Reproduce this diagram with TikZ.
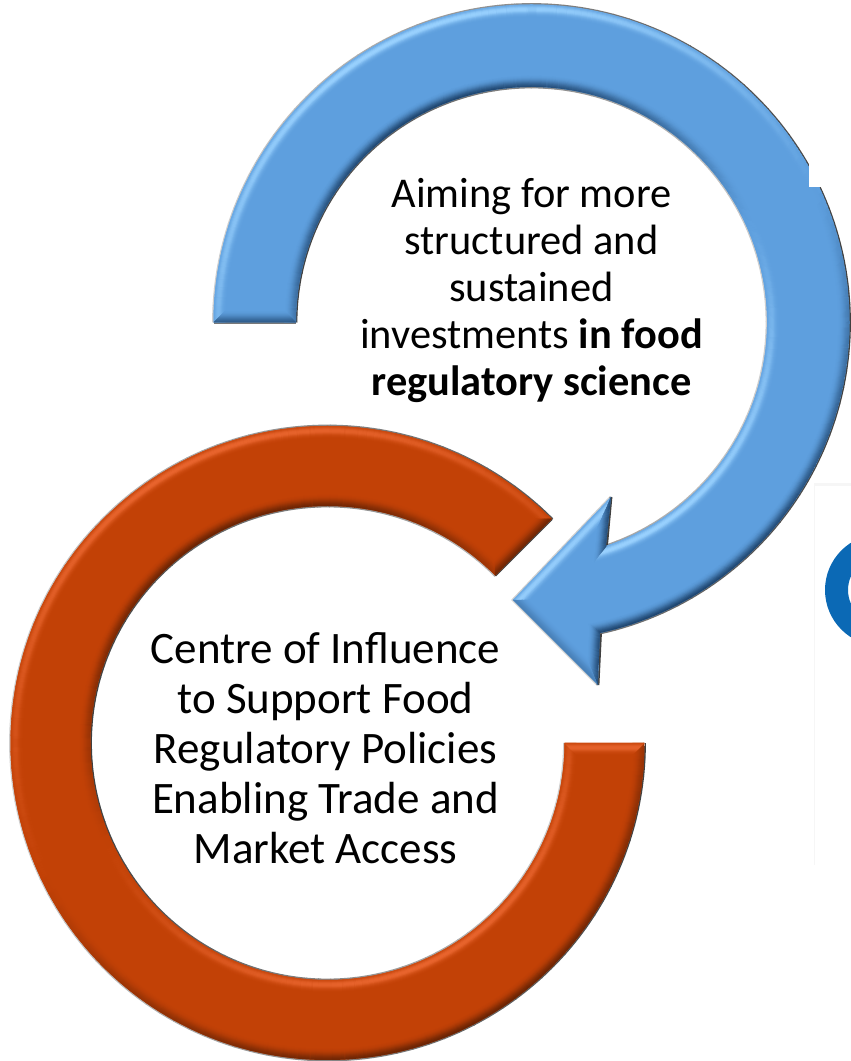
\documentclass[tikz,border=0pt]{standalone}
\usepackage{fontspec}
\setmainfont{Carlito}
\definecolor{BB}{HTML}{5E9FDE}
\definecolor{BH}{HTML}{9AD2FF}
\definecolor{BD}{HTML}{1F4670}
\definecolor{RB}{HTML}{C24106}
\definecolor{RH}{HTML}{E9652E}
\definecolor{RD}{HTML}{6A2404}
\definecolor{HL}{HTML}{CFCFCF}
\definecolor{HD}{HTML}{404040}
\definecolor{LogoBlue}{HTML}{0B69B5}
\definecolor{Faint}{HTML}{F6F6F6}
\newcommand\bevcol[2]{%
  \ifdim#1pt>0pt
    \pgfmathsetmacro\mval{100*#1*\kl}\colorlet{cur}{#2H!\mval!#2B}%
  \else
    \pgfmathsetmacro\mval{-100*#1*\ks}\colorlet{cur}{#2D!\mval!#2B}%
  \fi}
\newcommand\setk{%
  \pgfmathsetmacro\kl{{0.3,0.55,0.8,0.95,1,0.95,0.8,0.55,0.35,0.2,0.1,0.04}[\tl]}%
  \pgfmathsetmacro\ks{{1,0.9,0.8,0.68,0.55,0.42,0.3,0.2,0.12,0.06,0.03,0}[\tl]}}
% cx cy R sign astart aend prefix extra
\newcommand\ringedge[8]{%
  \foreach \tl in {11,10,...,0}{%
    \setk
    \pgfmathsetmacro\rr{#3-#4*(\tl+0.5)}%
    \pgfmathsetmacro\aend{#6-#8*\tl}%
    \pgfmathtruncatemacro\nn{abs(\aend-#5)/3+1}%
    \pgfmathsetmacro\stp{(\aend-#5)/\nn}%
    \foreach \ii in {1,...,\nn}{%
      \pgfmathsetmacro\aa{#5+(\ii-1)*\stp}%
      \pgfmathsetmacro\bb{\aa+\stp*1.08}%
      \pgfmathsetmacro\dd{#4*cos(\aa+\stp/2-115)}%
      \bevcol{\dd}{#7}%
      \draw[line width=1.4pt,color=cur,shift={(#1,#2)}] (\aa:\rr pt) arc[start angle=\aa,end angle=\bb,radius=\rr pt];
    }%
  }}
% cx cy R sign astart aend
\newcommand\ringhalo[6]{%
  \pgfmathtruncatemacro\nn{abs(#6-#5)/3+1}%
  \pgfmathsetmacro\stp{(#6-#5)/\nn}%
  \foreach \ii in {1,...,\nn}{%
    \pgfmathsetmacro\aa{#5+(\ii-1)*\stp}%
    \pgfmathsetmacro\bb{\aa+\stp*1.05}%
    \pgfmathsetmacro\xx{50-50*#4*cos(\aa+\stp/2)}%
    \colorlet{cur}{HL!\xx!HD}%
    \draw[line width=2.8pt,color=cur,shift={(#1,#2)}] (\aa:#3 pt) arc[start angle=\aa,end angle=\bb,radius=#3 pt];
  }}
% cx cy a0 s ro ri d prefix
\newcommand\ringcap[8]{%
  \foreach \tl in {11,10,...,0}{%
    \setk
    \bevcol{#7}{#8}%
    \pgfmathsetmacro\pa{#3+#4*\tl*57.3/(#5-\tl)}%
    \pgfmathsetmacro\pb{#3+#4*(\tl+1)*57.3/(#5-\tl-1)}%
    \pgfmathsetmacro\pc{#3+#4*(\tl+1)*57.3/(#6+\tl+1)}%
    \pgfmathsetmacro\pd{#3+#4*\tl*57.3/(#6+\tl)}%
    \pgfmathsetmacro\qa{#5-\tl}\pgfmathsetmacro\qb{#5-\tl-1}%
    \pgfmathsetmacro\qc{#6+\tl+1}\pgfmathsetmacro\qd{#6+\tl}%
    \fill[color=cur,draw=cur,line width=0.3pt,shift={(#1,#2)}] (\pa:\qa pt) -- (\pb:\qb pt) -- (\pc:\qc pt) -- (\pd:\qd pt) -- cycle;
  }}
\newcommand\headedge[8]{%
  \fill[color=cur,draw=cur,line width=0.3pt] ({#1+\tl*#3},{#2+\tl*#4}) -- ({#5+\tl*#7},{#6+\tl*#8}) -- ({#5+(\tl+1)*#7},{#6+(\tl+1)*#8}) -- ({#1+(\tl+1)*#3},{#2+(\tl+1)*#4}) -- cycle;}
\def\bluepath{(213.5,738.5) arc[start angle=180,end angle=-77.6,radius=318pt] -- (598,376) -- (513,461) -- (611,564) -- ([shift={(531.5,738.5)}]-71.6:235.5pt) arc[start angle=-71.6,end angle=180,radius=235.5pt] -- cycle}
\def\redpath{(644.5,318) arc[start angle=0,end angle=-315,radius=317pt] -- ([shift={(327.5,318)}]45:237pt) arc[start angle=45,end angle=360,radius=237pt] -- cycle}
\begin{document}
\begin{tikzpicture}[x=1pt,y=1pt]
\useasboundingbox (0,0) rectangle (851,1061);
\clip (0,0) rectangle (851,1061);
\fill[white] (0,0) rectangle (851,1061);
% faint pasted logo behind
\fill[Faint] (813.5,196) rectangle (815,577);
\fill[Faint] (813.5,575) rectangle (851,578);
\fill[LogoBlue,even odd rule] (881,471) circle[radius=56pt] (881,471) circle[radius=33pt];
% red ring
\ringhalo{327.5}{318}{317}{1}{0}{-315}
\ringhalo{327.5}{318}{237}{-1}{0}{-315}
\draw[line width=2.8pt,HL] (564,316.5) -- (645,316.5);
\draw[line width=2.8pt,HD] ([shift={(327.5,318)}]45:237pt) -- ([shift={(327.5,318)}]45:317pt);
\fill[RB] \redpath;
\begin{scope}
\clip \redpath;
\ringedge{327.5}{318}{317}{1}{0}{-315}{R}{0}
\ringedge{327.5}{318}{237}{-1}{0}{-315}{R}{0}
\ringcap{327.5}{318}{0}{-1}{317}{237}{0.9}{R}
\ringcap{327.5}{318}{45}{1}{317}{237}{-0.9}{R}
\end{scope}
% blue arrow
\ringhalo{531.5}{738.5}{318}{1}{180}{-77.6}
\ringhalo{531.5}{738.5}{235.5}{-1}{180}{-71.6}
\draw[line width=2.8pt,HD!60!HL] (213.5,738.5) -- (296,738.5);
\draw[line width=2.8pt,HL] (598,376) -- (513,461) -- (611,564);
\draw[line width=2.8pt,HD] (611,564) -- (606.5,515.1);
\draw[line width=2.8pt,HD] (598,376) -- (600.5,427.4);
\fill[BB] \bluepath;
\begin{scope}
\clip \bluepath;
\ringedge{531.5}{738.5}{318}{1}{180}{-77.6}{B}{0.15}
\ringedge{531.5}{738.5}{235.5}{-1}{180}{-71.6}{B}{0.35}
\ringcap{531.5}{738.5}{180}{-1}{318}{235.5}{-0.8}{B}
\begin{scope}[shift={(0,1061)},yscale=-1]
\foreach \tl in {11,10,...,0}{%
  \setk
  \bevcol{0.93}{B}\headedge{513}{600}{1.40}{-0.02}{611}{497}{-1.22}{2.73}%
  \bevcol{-0.9}{B}\headedge{611}{497}{-1.22}{2.73}{606.5}{545.9}{-1.11}{1.42}%
  \bevcol{-0.34}{B}\headedge{513}{600}{1.40}{-0.02}{598}{685}{-0.91}{-2.33}%
  \bevcol{-0.9}{B}\headedge{598}{685}{-0.91}{-2.33}{600.5}{633.6}{-0.97}{-0.81}%
}
\end{scope}
\end{scope}
% white patch over the arrow's shoulder
\fill[white] (809,874) rectangle (851,1061);
% texts
\node[align=center,inner sep=0pt,font=\fontsize{42.4}{47}\selectfont] (bluetext) at (531.5,770.5) {Aiming for more\\structured and\\sustained\\investments \textbf{in food}\\\textbf{regulatory science}};
\node[align=center,inner sep=0pt,font=\fontsize{45}{50}\selectfont] (redtext) at (325.5,312.5) {Centre of Influence\\to Support Food\\Regulatory Policies\\Enabling Trade and\\Market Access};
\end{tikzpicture}
\end{document}
